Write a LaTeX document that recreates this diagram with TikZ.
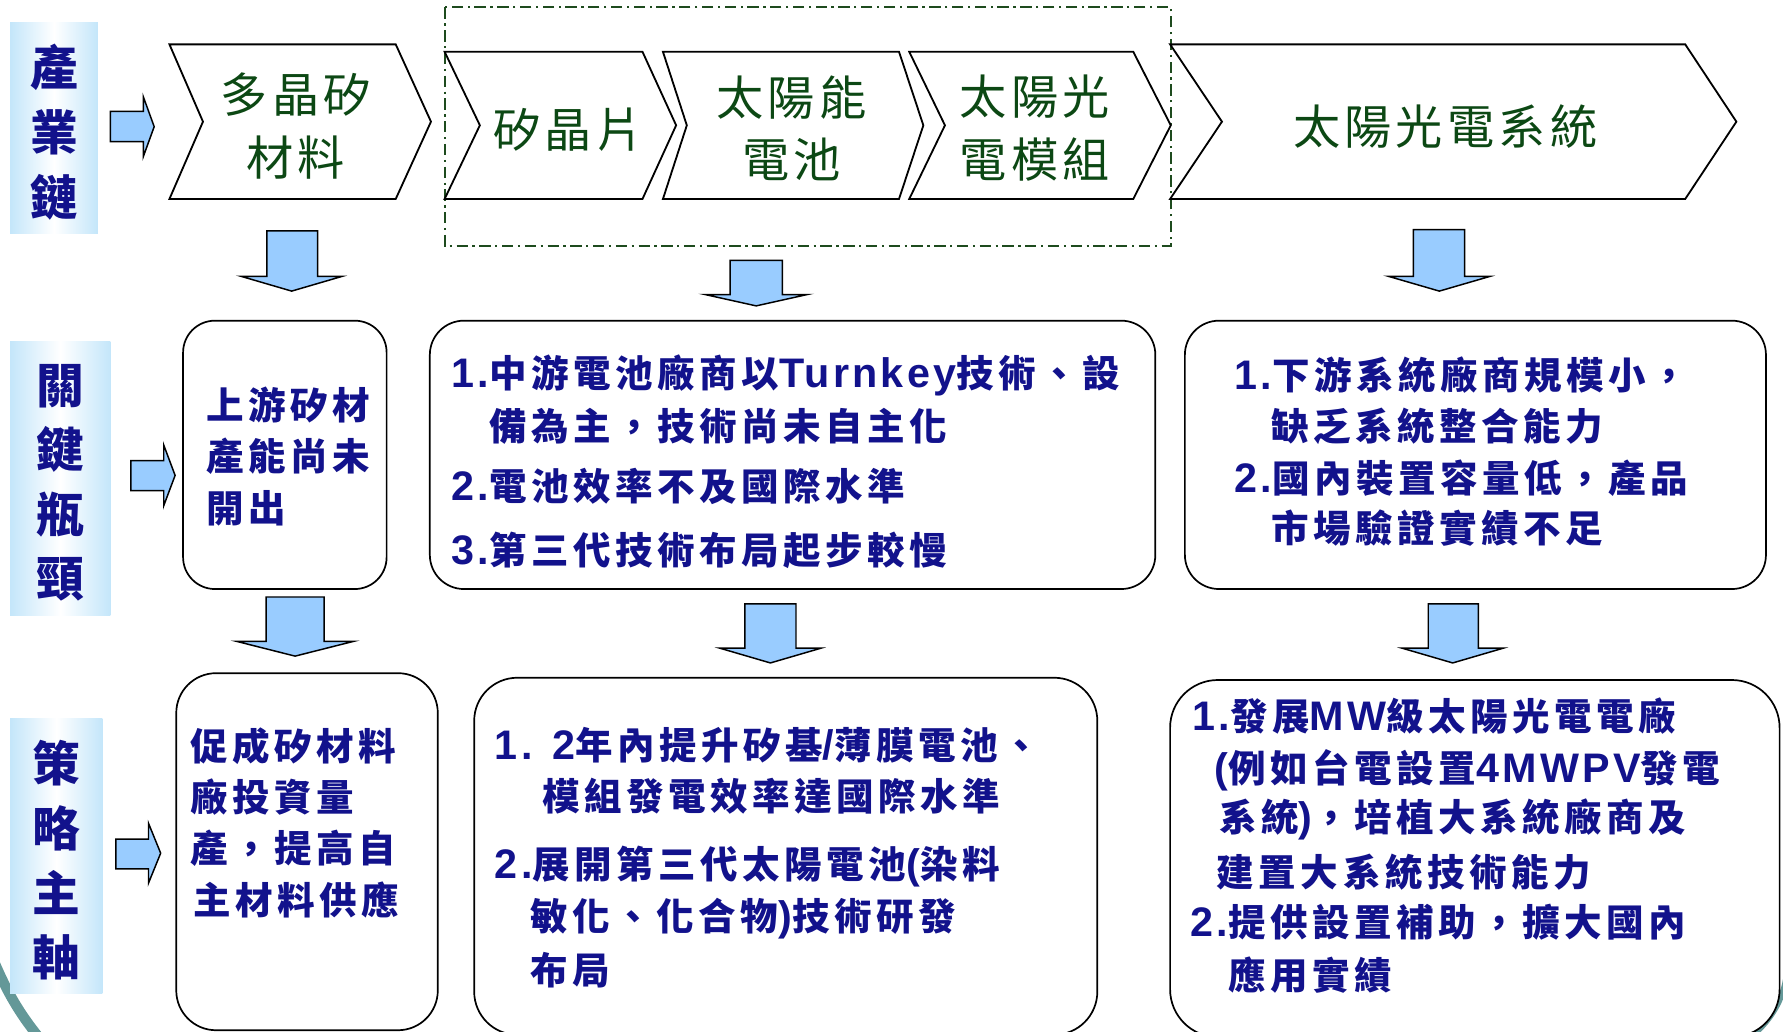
\documentclass[tikz,border=0pt]{standalone}
\usepackage{fontspec}
\newfontfamily\cjkb{Noto Sans CJK TC}[LetterSpace=12]
\newfontfamily\cjkg{Noto Sans CJK TC}[LetterSpace=9]
\newfontfamily\latb{Liberation Sans Bold}[LetterSpace=8,Scale=1.1]
\newcommand\mylat[1]{{\latb #1}}
\definecolor{navyt}{RGB}{18,18,140}
\definecolor{dgreen}{RGB}{12,72,20}
\definecolor{dashg}{RGB}{30,75,30}
\definecolor{arrblue}{RGB}{153,204,255}
\definecolor{lblue}{RGB}{196,230,250}
\definecolor{tealarc}{RGB}{100,152,152}
\newcommand\dnarr[7]{\draw[blk] (#1,#3) -- (#2,#3) -- (#2,#4) -- (#6,#4) -- ({(#5+#6)/2},#7) -- (#5,#4) -- (#1,#4) -- cycle;}
\newcommand\rtarr[7]{\draw[blk] (#1,#3) -- (#2,#3) -- (#2,#5) -- (#7,{(#5+#6)/2}) -- (#2,#6) -- (#2,#4) -- (#1,#4) -- cycle;}
\tikzset{
 lbl/.style={left color=lblue, right color=lblue, middle color=white, draw=none, inner sep=0pt},
 lbltxt/.style={text=navyt, align=center, inner sep=0pt, font=\cjkb\bfseries\fontsize{42}{57}\selectfont},
 chev/.style={draw=black, line width=1.6pt, fill=white, line join=miter},
 blk/.style={draw=black, line width=1.3pt, fill=arrblue, line join=miter},
 rbox/.style={draw=black, line width=1.5pt, fill=white, inner sep=0pt},
 btxt/.style={anchor=west, inner sep=0pt, text=navyt, font=\cjkb\bfseries\fontsize{33}{40}\selectfont},
 gtxt/.style={align=center, inner sep=0pt, text=dgreen, font=\cjkg\fontsize{41.5}{55}\selectfont},
 dashbox/.style={draw=dashg, line width=1.6pt, dash pattern=on 10pt off 4pt on 2pt off 4pt},
 arcline/.style={draw=tealarc},
}
\begin{document}
\begin{tikzpicture}[x=1pt,y=-1pt]
\useasboundingbox (0,0) rectangle (1568,907);
\fill[white] (0,0) rectangle (1568,907);
% decorative arcs
\draw[arcline, line width=9pt] (-5,846) .. controls (6,872) and (17,891) .. (34,912);
\draw[arcline, line width=5pt] (1571,858) .. controls (1568,880) and (1557,897) .. (1541,911);
% row labels
\node[lbl, minimum width=77pt, minimum height=185pt] (lab1) at (47.5,112.5) {};
\node[lbltxt] (lab1t) at (47.5,116) {產\\業\\鏈};
\node[lbl, minimum width=88pt, minimum height=241.5pt] (lab2) at (53,420.7) {};
\node[lbltxt, font=\cjkb\bfseries\fontsize{42}{56.5}\selectfont] (lab2t) at (53,424.5) {關\\鍵\\瓶\\頸};
\node[lbl, minimum width=81pt, minimum height=242pt] (lab3) at (49.5,752.5) {};
\node[lbltxt] (lab3t) at (49.5,756.5) {策\\略\\主\\軸};
% dash-dot group box
\draw[dashbox] (391,6.5) rectangle (1029.6,216);
% chevrons
\draw[chev] (149,39) -- (348,39) -- (379,107) -- (348,175) -- (149,175) -- (178.5,107) -- cycle;
\node[gtxt] (cA) at (260,110.7) {多晶矽\\材料};
\draw[chev] (391,45.5) -- (565,45.5) -- (594.6,110.2) -- (565,175) -- (391,175) -- (422,110.2) -- cycle;
\node[gtxt] (cB) at (500,114) {矽晶片};
\draw[chev] (583,45.5) -- (790.6,45.5) -- (812,110.2) -- (790.6,175) -- (583,175) -- (604,110.2) -- cycle;
\node[gtxt] (cC) at (696,112.8) {太陽能\\電池};
\draw[chev] (799.6,45.5) -- (996.6,45.5) -- (1029.6,110.2) -- (996.6,175) -- (799.6,175) -- (831,110.2) -- cycle;
\node[gtxt] (cD) at (910,112.8) {太陽光\\電模組};
\draw[chev] (1029,39) -- (1482,39) -- (1527,107) -- (1482,175) -- (1029,175) -- (1074.6,107) -- cycle;
\node[gtxt] (cE) at (1271,111.4) {太陽光電系統};
% right arrows
\rtarr{97}{126}{98}{124.6}{85}{137.8}{135.6}
\rtarr{115}{144}{405}{431.5}{391.4}{444.7}{154}
\rtarr{102}{130.6}{738}{764}{724}{776.6}{141.3}
% down arrows
\dnarr{234.6}{279.3}{203}{243}{212}{301}{256}
\dnarr{642}{688}{229}{259}{620}{710}{269}
\dnarr{1243}{1288}{202}{243}{1221}{1310.5}{256}
\dnarr{234}{285}{525}{564}{208}{311}{577}
\dnarr{655}{700}{531}{570}{633}{722}{583}
\dnarr{1256}{1300}{531}{570}{1233}{1322}{583}
% row 2 boxes
\node[rbox, rounded corners=28pt, minimum width=179pt, minimum height=236pt] (b21) at (250.5,400) {};
\node[rbox, rounded corners=30pt, minimum width=638pt, minimum height=236pt] (b22) at (697,400) {};
\node[rbox, rounded corners=30pt, minimum width=511pt, minimum height=236pt] (b23) at (1297.5,400) {};
% row 3 boxes
\node[rbox, rounded corners=35pt, minimum width=230pt, minimum height=314pt] (b31) at (270,749) {};
\node[rbox, rounded corners=38pt, minimum width=548pt, minimum height=314pt] (b32) at (691,753) {};
\node[rbox, rounded corners=42pt, minimum width=536pt, minimum height=314pt] (b33) at (1297,755) {};
% row 2 texts
\node[btxt] (t211) at (181,356) {上游矽材};
\node[btxt] (t212) at (181,401.6) {產能尚未};
\node[btxt] (t213) at (181,447) {開出};
\node[btxt] (t221) at (397,330) {\mylat{1.}中游電池廠商以\mylat{Turnkey}技術、設};
\node[btxt] (t222) at (430,375) {備為主，技術尚未自主化};
\node[btxt] (t223) at (397,428) {\mylat{2.}電池效率不及國際水準};
\node[btxt] (t224) at (397,483.7) {\mylat{3.}第三代技術布局起步較慢};
\node[btxt] (t231) at (1085.6,330) {\mylat{1.}下游系統廠商規模小，};
\node[btxt] (t232) at (1118,375) {缺乏系統整合能力};
\node[btxt] (t233) at (1085.6,420.6) {\mylat{2.}國內裝置容量低，產品};
\node[btxt] (t234) at (1118,464.6) {市場驗證實績不足};
% row 3 texts
\node[btxt] (t311) at (167,656.6) {促成矽材料};
\node[btxt] (t312) at (167,700.6) {廠投資量};
\node[btxt] (t313) at (167,745.8) {產，提高自};
\node[btxt] (t314) at (170,791.5) {主材料供應};
\node[btxt] (t321) at (435,655) {\mylat{1. 2}年內提升矽基\mylat{/}薄膜電池、};
\node[btxt] (t322) at (477,700.6) {模組發電效率達國際水準};
\node[btxt] (t323) at (435,762) {\mylat{2.}展開第三代太陽電池\mylat{(}染料};
\node[btxt] (t324) at (466.5,807.5) {敏化、化合物\mylat{)}技術研發};
\node[btxt] (t325) at (466.5,853) {布局};
\node[btxt] (t331) at (1048.5,630) {\mylat{1.}發展\mylat{MW}級太陽光電電廠};
\node[btxt] (t332) at (1068,677) {\mylat{(}例如台電設置\mylat{4MWPV}發電};
\node[btxt] (t333) at (1072,721) {系統\mylat{)}，培植大系統廠商及};
\node[btxt] (t334) at (1070,766.6) {建置大系統技術能力};
\node[btxt] (t335) at (1046.6,810.6) {\mylat{2.}提供設置補助，擴大國內};
\node[btxt] (t336) at (1080.5,857.5) {應用實績};
\end{tikzpicture}
\end{document}
